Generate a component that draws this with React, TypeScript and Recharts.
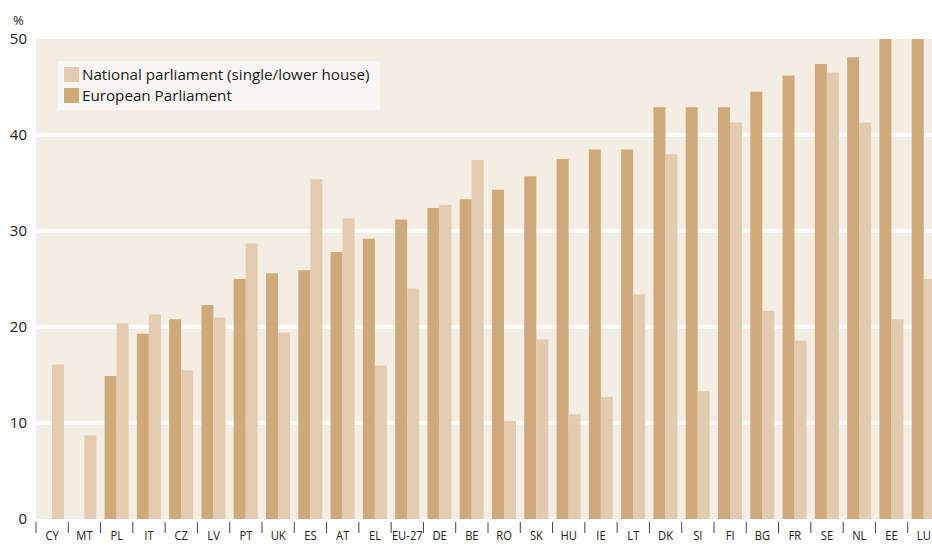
import { BarChart, Bar, XAxis, YAxis, CartesianGrid } from "recharts";

const categories = [
  "CY", "MT", "PL", "IT", "CZ", "LV", "PT", "UK", "ES", "AT", "EL", "EU-27", "DE", "BE",
  "RO", "SK", "HU", "IE", "LT", "DK", "SI", "FI", "BG", "FR", "SE", "NL", "EE", "LU",
];
const european = [
  0, 0, 14.9, 19.3, 20.8, 22.3, 25.0, 25.6, 25.9, 27.8, 29.2, 31.2, 32.4, 33.3,
  34.3, 35.7, 37.5, 38.5, 38.5, 42.9, 42.9, 42.9, 44.5, 46.2, 47.4, 48.1, 50, 50,
];
const national = [
  16.1, 8.7, 20.4, 21.3, 15.5, 21.0, 28.7, 19.4, 35.4, 31.3, 16.0, 24.0, 32.7, 37.4,
  10.2, 18.7, 10.9, 12.7, 23.4, 38.0, 13.3, 41.3, 21.7, 18.6, 46.5, 41.3, 20.8, 25.0,
];
const yTicks = [0, 10, 20, 30, 40, 50];

const EURO = "#cfa979";
const NAT = "#e2cbae";
const BG = "#f4ede3";

const data = categories.map((c, i) => ({
  name: c,
  european: european[i],
  national: national[i],
}));

// plot runs a bit past the right edge of the page, like the source
const CHART_W = 940;
const PLOT_LEFT = 36;
const BAND = (CHART_W - PLOT_LEFT) / categories.length;

function CountryTick({ x, y, payload }: any) {
  const left = x - BAND / 2;
  return (
    <g>
      <line x1={left} x2={left} y1={y + 1} y2={y + 12} stroke="#444" strokeWidth={1} />
      <g transform={`translate(${x},${y + 19})`}>
        <text
          transform="scale(0.83,1)"
          textAnchor="middle"
          fontFamily="'Open Sans', sans-serif"
          fontSize={13.5}
          fill="#222"
        >
          {payload.value}
        </text>
      </g>
    </g>
  );
}

export default function App() {
  return (
    <div
      style={{
        position: "absolute",
        left: 0,
        top: 0,
        width: 932,
        height: 545,
        overflow: "hidden",
        background: "#fff",
      }}
    >
      <BarChart
        width={CHART_W}
        height={545}
        data={data}
        margin={{ top: 39, right: 0, bottom: 0, left: 0 }}
        barGap={0}
      >
        <CartesianGrid
          vertical={false}
          horizontalValues={[10, 20, 30, 40]}
          stroke="#fff"
          strokeWidth={4}
          fill={BG}
        />
        <XAxis
          dataKey="name"
          height={26}
          tickLine={false}
          axisLine={false}
          tickSize={0}
          interval={0}
          tick={<CountryTick />}
        />
        <YAxis
          width={36}
          domain={[0, 50]}
          ticks={yTicks}
          allowDataOverflow
          axisLine={false}
          tickLine={false}
          tickSize={0}
          tickMargin={9}
          tick={{ fontFamily: "'Open Sans', sans-serif", fontSize: 15, fill: "#1a1a1a" }}
        />
        <Bar dataKey="european" fill={EURO} barSize={12} isAnimationActive={false} />
        <Bar dataKey="national" fill={NAT} barSize={12} isAnimationActive={false} />
      </BarChart>
      <div
        style={{
          position: "absolute",
          left: 13,
          top: 11,
          fontFamily: "'Open Sans', sans-serif",
          fontSize: 13,
          color: "#1a1a1a",
        }}
      >
        %
      </div>
      <div
        style={{
          position: "absolute",
          left: 58,
          top: 61,
          width: 322,
          height: 49,
          background: "#f9f7f3",
          fontFamily: "'Open Sans', sans-serif",
          fontSize: 15.2,
          color: "#1a1a1a",
        }}
      >
        {[
          { label: "National parliament (single/lower house)", color: NAT, top: 6 },
          { label: "European Parliament", color: EURO, top: 27 },
        ].map((item) => (
          <div
            key={item.label}
            style={{ position: "absolute", left: 6, top: item.top, display: "flex", alignItems: "center", height: 15 }}
          >
            <span style={{ width: 15, height: 15, background: item.color, display: "inline-block" }} />
            <span style={{ marginLeft: 3, whiteSpace: "nowrap", lineHeight: "15px" }}>{item.label}</span>
          </div>
        ))}
      </div>
    </div>
  );
}
